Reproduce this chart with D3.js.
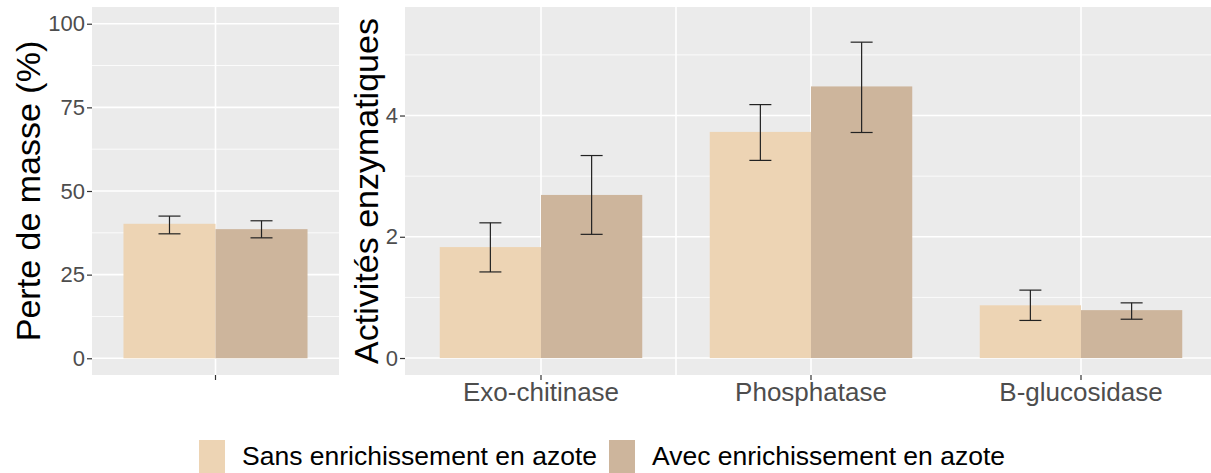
<!DOCTYPE html>
<html>
<head>
<meta charset="utf-8">
<script src="https://cdn.jsdelivr.net/npm/d3@7"></script>
<style>
  body { margin: 0; background: #fff; }
  svg { display: block; font-family: "Liberation Sans", Arial, sans-serif; }
</style>
</head>
<body>
<div id="app"></div>
<script>
// --- data ---
const groups = ["Sans enrichissement en azote", "Avec enrichissement en azote"];
const groupColors = ["#EDD4B4", "#CDB59C"];

// left panel: mass loss (%)
const masseMean = [40.2, 38.6];
const masseLow = [37.2, 36.0];
const masseHigh = [42.5, 41.1];
const masseTicks = [0, 25, 50, 75, 100];

// right panel: enzyme activities
const enzymes = ["Exo-chitinase", "Phosphatase", "B-glucosidase"];
const sansMean = [1.83, 3.73, 0.87];
const sansLow = [1.42, 3.26, 0.62];
const sansHigh = [2.23, 4.18, 1.12];
const avecMean = [2.69, 4.48, 0.79];
const avecLow = [2.04, 3.72, 0.64];
const avecHigh = [3.34, 5.21, 0.91];
const enzTicks = [0, 2, 4];

const width = 1211;
const height = 473;
const panelTop = 7;
const panelBottom = 375;
const tickLen = 5;
const bg = "#EBEBEB";

const svg = d3
  .select("#app")
  .append("svg")
  .attr("width", width)
  .attr("height", height);

function drawPanel(opts) {
  const { x0, x1, y, ticks, minor, cats, band, bars, title, titleX, showLabels, seam } = opts;
  const g = svg.append("g");

  g.append("rect")
    .attr("x", x0)
    .attr("y", panelTop)
    .attr("width", x1 - x0)
    .attr("height", panelBottom - panelTop)
    .attr("fill", bg);

  // minor grid
  g.selectAll("line.minor")
    .data(minor)
    .enter()
    .append("line")
    .attr("x1", x0)
    .attr("x2", x1)
    .attr("y1", (d) => y(d))
    .attr("y2", (d) => y(d))
    .attr("stroke", "#fff")
    .attr("stroke-width", 0.8);

  // major grid
  g.selectAll("line.major")
    .data(ticks)
    .enter()
    .append("line")
    .attr("x1", x0)
    .attr("x2", x1)
    .attr("y1", (d) => y(d))
    .attr("y2", (d) => y(d))
    .attr("stroke", "#fff")
    .attr("stroke-width", 1.6);

  g.selectAll("line.vgrid")
    .data(cats)
    .enter()
    .append("line")
    .attr("x1", (d) => band(d) + band.bandwidth() / 2)
    .attr("x2", (d) => band(d) + band.bandwidth() / 2)
    .attr("y1", panelTop)
    .attr("y2", panelBottom)
    .attr("stroke", "#fff")
    .attr("stroke-width", 1.6);

  if (seam) {
    const sx = (band(cats[0]) + band(cats[1])) / 2 + band.bandwidth() / 2;
    g.append("line")
      .attr("x1", sx).attr("x2", sx)
      .attr("y1", panelTop).attr("y2", panelBottom)
      .attr("stroke", "#fff")
      .attr("stroke-width", 1.6);
  }

  // bars
  const inner = d3.scaleBand().domain(groups).range([0, band.bandwidth()]);
  bars.forEach((s, gi) => {
    g.selectAll(null)
      .data(cats)
      .enter()
      .append("rect")
      .attr("x", (d) => band(d) + inner(groups[gi]))
      .attr("width", inner.bandwidth())
      .attr("y", (d, i) => y(s.mean[i]))
      .attr("height", (d, i) => y(0) - y(s.mean[i]))
      .attr("fill", groupColors[gi]);
  });

  // error bars
  bars.forEach((s, gi) => {
    const cx = (d) => band(d) + inner(groups[gi]) + inner.bandwidth() / 2;
    const eb = g.selectAll(null).data(cats).enter().append("g")
      .attr("stroke", "#222")
      .attr("stroke-width", 1.2);
    eb.append("line")
      .attr("x1", cx).attr("x2", cx)
      .attr("y1", (d, i) => y(s.low[i]))
      .attr("y2", (d, i) => y(s.high[i]));
    eb.append("line")
      .attr("x1", (d) => cx(d) - 11).attr("x2", (d) => cx(d) + 11)
      .attr("y1", (d, i) => y(s.low[i]))
      .attr("y2", (d, i) => y(s.low[i]));
    eb.append("line")
      .attr("x1", (d) => cx(d) - 11).attr("x2", (d) => cx(d) + 11)
      .attr("y1", (d, i) => y(s.high[i]))
      .attr("y2", (d, i) => y(s.high[i]));
  });

  // y axis
  const yAxis = g.append("g")
    .attr("transform", `translate(${x0},0)`)
    .call(d3.axisLeft(y).tickValues(ticks).tickFormat(d3.format("d")).tickSize(tickLen).tickPadding(2));
  yAxis.select(".domain").remove();
  yAxis.selectAll(".tick line").attr("stroke", "#333").attr("stroke-width", 1.2);
  yAxis.selectAll(".tick text")
    .attr("fill", "#4D4D4D")
    .style("font-size", "22px");

  // x axis
  const xAxis = g.append("g")
    .attr("transform", `translate(0,${panelBottom})`)
    .call(d3.axisBottom(band).tickSize(tickLen).tickPadding(3)
      .tickFormat((d) => (showLabels ? d : "")));
  xAxis.select(".domain").remove();
  xAxis.selectAll(".tick line").attr("stroke", "#333").attr("stroke-width", 1.2);
  xAxis.selectAll(".tick text")
    .attr("fill", "#4D4D4D")
    .style("font-size", "26px");

  // axis title
  svg.append("text")
    .attr("transform", `translate(${titleX},${(panelTop + panelBottom) / 2}) rotate(-90)`)
    .attr("text-anchor", "middle")
    .style("font-size", "34px")
    .attr("fill", "#000")
    .text(title);
}

// left panel
const yMasse = d3.scaleLinear().domain([-5, 105]).range([panelBottom, panelTop]);
const bandMasse = d3.scaleBand().domain([""]).range([92, 339]).paddingInner(0).paddingOuter(0.171);
drawPanel({
  x0: 92,
  x1: 339,
  y: yMasse,
  ticks: masseTicks,
  minor: [12.5, 37.5, 62.5, 87.5],
  cats: [""],
  band: bandMasse,
  bars: [
    { mean: masseMean.slice(0, 1), low: masseLow.slice(0, 1), high: masseHigh.slice(0, 1) },
    { mean: masseMean.slice(1, 2), low: masseLow.slice(1, 2), high: masseHigh.slice(1, 2) },
  ],
  title: "Perte de masse (%)",
  titleX: 40,
  showLabels: false,
  seam: false,
});

// right panel
const yEnz = d3.scaleLinear().domain([-0.28, 5.79]).range([panelBottom, panelTop]);
const bandEnz = d3.scaleBand().domain(enzymes).range([406, 1216]).paddingInner(0.25).paddingOuter(0.125);
drawPanel({
  x0: 405,
  x1: 1216,
  y: yEnz,
  ticks: enzTicks,
  minor: [1, 3, 5],
  cats: enzymes,
  band: bandEnz,
  bars: [
    { mean: sansMean, low: sansLow, high: sansHigh },
    { mean: avecMean, low: avecLow, high: avecHigh },
  ],
  title: "Activités enzymatiques",
  titleX: 378,
  showLabels: true,
  seam: true,
});

// legend
const legendX = [199, 609];
const legend = svg.append("g");
groups.forEach((name, i) => {
  legend.append("rect")
    .attr("x", legendX[i])
    .attr("y", 440)
    .attr("width", 26)
    .attr("height", 36)
    .attr("fill", groupColors[i]);
  legend.append("text")
    .attr("x", legendX[i] + 43)
    .attr("y", 465)
    .style("font-size", "26.5px")
    .attr("fill", "#000")
    .text(name);
});
</script>
</body>
</html>
